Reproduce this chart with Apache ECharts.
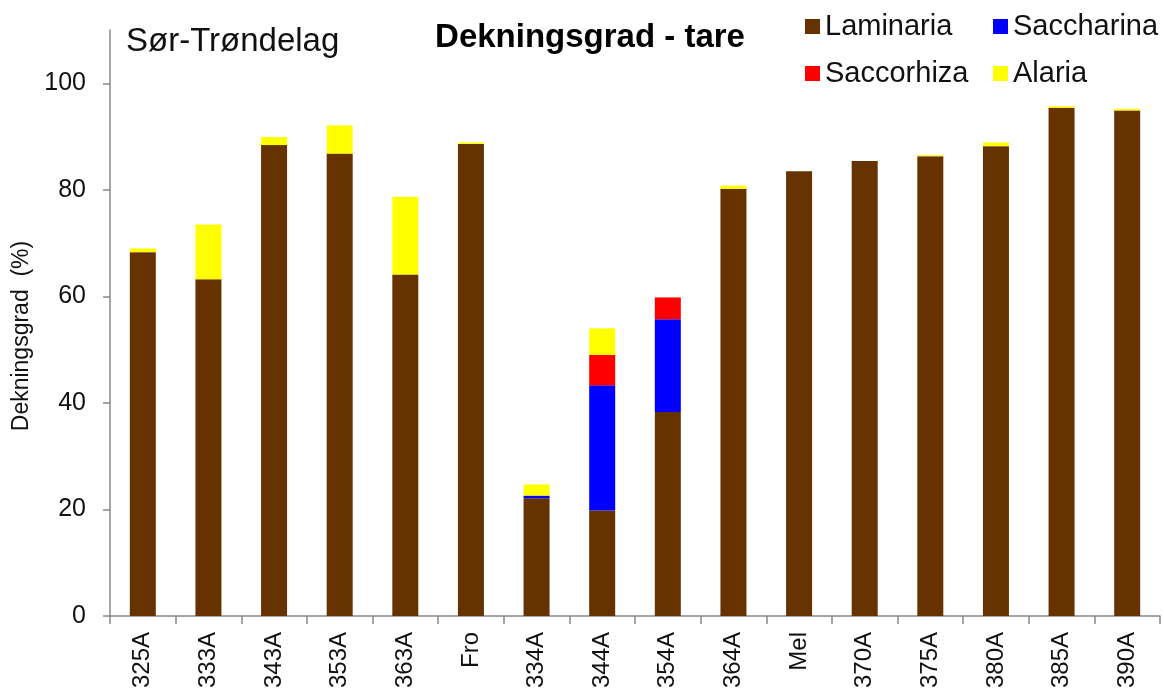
<!DOCTYPE html>
<html><head><meta charset="utf-8">
<script src="https://cdn.jsdelivr.net/npm/echarts@6/dist/echarts.min.js"></script>
<style>html,body{margin:0;padding:0;background:#fff}#c{width:1164px;height:693px}</style>
</head><body><div id="c"></div>
<script>
const categories = ['325A','333A','343A','353A','363A','Fro','334A','344A','354A','364A','Mel','370A','375A','380A','385A','390A'];
const laminaria  = [68.3, 63.2, 88.4, 86.8, 64.1, 88.6, 22.1, 19.8, 38.3, 80.2, 83.5, 85.4, 86.3, 88.2, 95.4, 94.9];
const saccharina = [0, 0, 0, 0, 0, 0, 0.5, 23.5, 17.4, 0, 0, 0, 0, 0, 0, 0];
const saccorhiza = [0, 0, 0, 0, 0, 0, 0, 5.7, 4.1, 0, 0, 0, 0, 0, 0, 0];
const alaria     = [0.7, 10.3, 1.5, 5.3, 14.6, 0.3, 2.1, 5.0, 0, 0.6, 0, 0, 0.2, 0.7, 0.3, 0.3];
const yTicks = [0, 20, 40, 60, 80, 100];

const FONT = 'Liberation Sans';
const colors = {Laminaria:'#663300', Saccharina:'#0000ff', Saccorhiza:'#ff0000', Alaria:'#ffff00'};
const chart = echarts.init(document.getElementById('c'), null, {renderer:'canvas'});
function ser(name, data){
  return {name, type:'bar', stack:'t', data, barWidth:26,
    itemStyle:{color:colors[name]}, emphasis:{disabled:true}};
}
function leg(name, left, top){
  return {data:[name], left, top, itemWidth:15, itemHeight:15, itemGap:0,
    icon:'rect', textStyle:{fontFamily:FONT, fontSize:29, color:'#111'}, selectedMode:false};
}
chart.setOption({
  animation:false,
  textStyle:{fontFamily:FONT},
  title:[
    {text:'Dekningsgrad - tare', left:585, top:16, textAlign:'center',
     textStyle:{fontFamily:FONT, fontSize:33, fontWeight:'bold', color:'#000'}},
    {text:'Sør-Trøndelag', left:121, top:20,
     textStyle:{fontFamily:FONT, fontSize:33, fontWeight:'normal', color:'#111'}}
  ],
  legend:[leg('Laminaria',800,7), leg('Saccharina',988,7), leg('Saccorhiza',800,54), leg('Alaria',988,54)],
  graphic:[{type:'text', x:22, y:336, rotation:Math.PI/2,
    style:{text:'Dekningsgrad  (%)', font:'23px "Liberation Sans"', fill:'#111', align:'center', verticalAlign:'middle'}}],
  grid:{left:110, right:4, top:30, bottom:77, containLabel:false},
  xAxis:{type:'category', data:categories,
    axisLine:{lineStyle:{color:'#888', width:1.5}},
    axisTick:{show:true, length:8, lineStyle:{color:'#888', width:1.5}},
    axisLabel:{rotate:90, fontSize:24, color:'#111', margin:16, fontFamily:FONT, interval:0}},
  yAxis:{type:'value', min:0, max:110, interval:20,
    axisLine:{show:true, lineStyle:{color:'#888', width:1.5}},
    axisTick:{show:true, length:7, customValues:yTicks, lineStyle:{color:'#888', width:1.5}},
    axisLabel:{customValues:yTicks, fontSize:25, color:'#111', margin:24, fontFamily:FONT},
    splitLine:{show:false}},
  series:[ser('Laminaria',laminaria), ser('Saccharina',saccharina), ser('Saccorhiza',saccorhiza), ser('Alaria',alaria)]
});
</script></body></html>
